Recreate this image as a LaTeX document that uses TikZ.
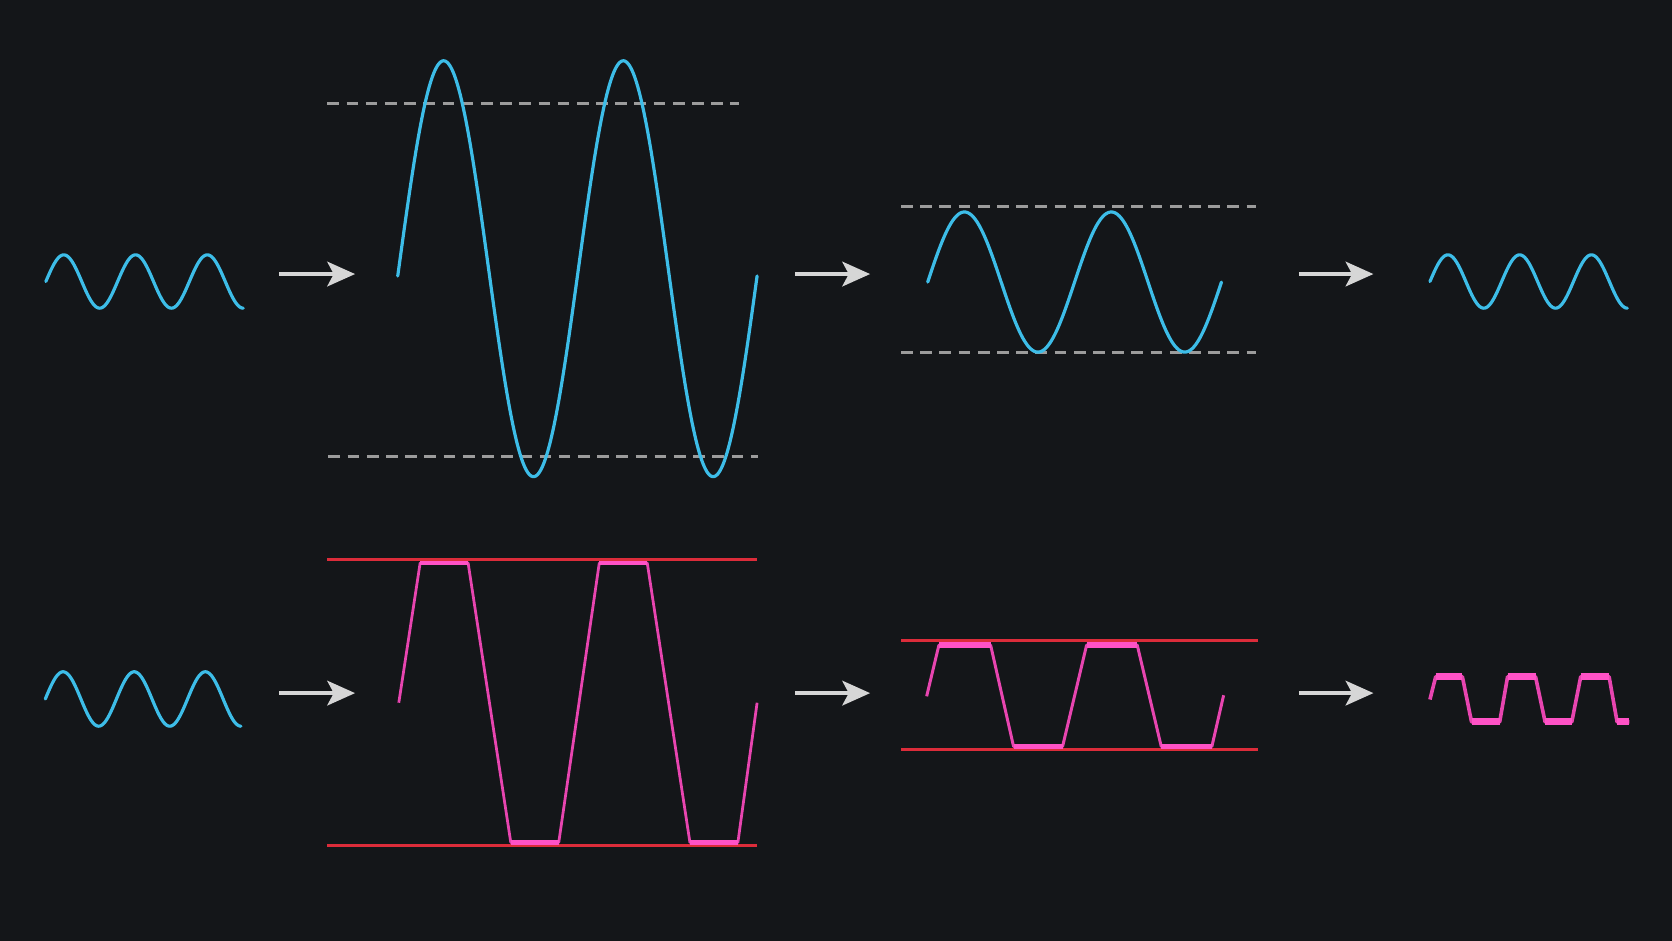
\documentclass[tikz,border=0pt]{standalone}
\usetikzlibrary{arrows.meta}
\definecolor{bgc}{HTML}{141619}
\definecolor{wavecyan}{HTML}{3DBDE8}
\definecolor{clippink}{HTML}{E845B0}
\definecolor{flatpink}{HTML}{FF52C6}
\definecolor{railred}{HTML}{DC2C3A}
\definecolor{guidegray}{HTML}{9C9C9C}
\definecolor{arrowgray}{HTML}{D6D6D6}
\tikzset{
  sinewave/.style={wavecyan, line width=1.5pt, line cap=round, line join=round},
  guideline/.style={guidegray, line width=1.4pt, dash pattern=on 5.5pt off 3.5pt},
  railline/.style={railred, line width=1.5pt},
  clipedge/.style={clippink, line width=#1, line join=round},
  clipbar/.style={flatpink, line width=#1},
  flowarrow/.style={arrowgray, line width=2pt, -{Stealth[length=13pt, width=11.5pt, inset=3pt]}},
}
\begin{document}
\begin{tikzpicture}[x=0.5pt, y=-0.5pt]
\fill[bgc] (0,0) rectangle (1568,882);
\useasboundingbox (0,0) rectangle (1568,882);

% ---------- top row ----------
\draw[sinewave] plot[variable=\t, domain=0:990, samples=200] ({43+\t/360*67.3},{264-25*sin(\t)});
\coordinate (ta1s) at (262,257); \coordinate (ta1e) at (333,257);
\draw[flowarrow] (ta1s) -- (ta1e);

\draw[guideline] (307,97) -- (693,97);
\draw[guideline] (308,428) -- (711,428);
\draw[sinewave] plot[variable=\t, domain=-2:718, samples=300] ({373+(\t+2)/360*168.5},{252-195*sin(\t)});

\coordinate (ta2s) at (746,257); \coordinate (ta2e) at (816,257);
\draw[flowarrow] (ta2s) -- (ta2e);

\draw[guideline] (845,194) -- (1178,194);
\draw[guideline] (845,331) -- (1178,331);
\draw[sinewave] plot[variable=\t, domain=0:720, samples=240] ({870+\t/360*137.75},{264.5-65.7*sin(\t)});

\coordinate (ta3s) at (1218,257); \coordinate (ta3e) at (1288,257);
\draw[flowarrow] (ta3s) -- (ta3e);

\draw[sinewave] plot[variable=\t, domain=0:990, samples=200] ({1341+\t/360*67.3},{264-25*sin(\t)});

% ---------- bottom row ----------
\draw[sinewave] plot[variable=\t, domain=0:990, samples=200] ({42.5+\t/360*66.7},{655.5-25.5*sin(\t)});
\coordinate (ba1s) at (262,650); \coordinate (ba1e) at (333,650);
\draw[flowarrow] (ba1s) -- (ba1e);

\draw[railline] (307,525) -- (710,525);
\draw[railline] (307,793) -- (710,793);
\draw[clipedge=1.3pt] (374,659) -- (394,528) -- (439,528) -- (479,790) -- (524,790) -- (562,528) -- (607,528) -- (647,790) -- (692,790) -- (710,659);
\draw[clipbar=2.2pt] (394,528) -- (439,528);
\draw[clipbar=2.2pt] (562,528) -- (607,528);
\draw[clipbar=2.2pt] (479,790) -- (524,790);
\draw[clipbar=2.2pt] (647,790) -- (692,790);

\coordinate (ba2s) at (746,650); \coordinate (ba2e) at (816,650);
\draw[flowarrow] (ba2s) -- (ba2e);

\draw[railline] (845,601) -- (1180,601);
\draw[railline] (845,703) -- (1180,703);
\draw[clipedge=1.4pt] (869,653) -- (880.5,605) -- (929,605) -- (950.5,700) -- (996.5,700) -- (1019,605) -- (1066.5,605) -- (1089,700) -- (1136.5,700) -- (1147.5,652);
\draw[clipbar=2.6pt] (880.5,605) -- (929,605);
\draw[clipbar=2.6pt] (1019,605) -- (1066.5,605);
\draw[clipbar=2.6pt] (950.5,700) -- (996.5,700);
\draw[clipbar=2.6pt] (1089,700) -- (1136.5,700);

\coordinate (ba3s) at (1218,650); \coordinate (ba3e) at (1288,650);
\draw[flowarrow] (ba3s) -- (ba3e);

\draw[clipedge=1.7pt] (1341,656) -- (1346.4,634.6) -- (1371.4,634.6) -- (1380,677) -- (1406.4,677) -- (1413.8,634.6) -- (1440,634.6) -- (1449,677) -- (1474,677) -- (1482.4,634.6) -- (1509,634.6) -- (1516.5,677) -- (1528,677);
\draw[clipbar=3.2pt] (1346.4,634.6) -- (1371.4,634.6);
\draw[clipbar=3.2pt] (1413.8,634.6) -- (1440,634.6);
\draw[clipbar=3.2pt] (1482.4,634.6) -- (1509,634.6);
\draw[clipbar=3.2pt] (1380,677) -- (1406.4,677);
\draw[clipbar=3.2pt] (1449,677) -- (1474,677);
\draw[clipbar=3.2pt] (1516.5,677) -- (1528,677);
\end{tikzpicture}
\end{document}
